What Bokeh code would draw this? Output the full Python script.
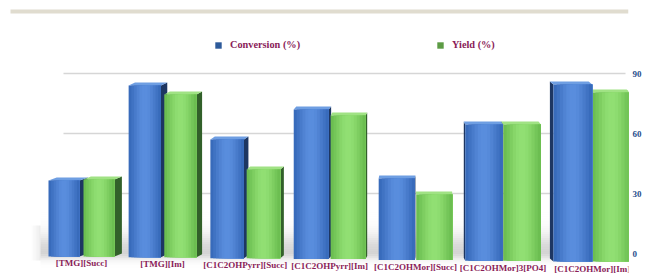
import numpy as np
from bokeh.plotting import figure
from bokeh.models import Range1d, LinearAxis, FixedTicker, Legend, LegendItem
from bokeh.embed import file_html
from bokeh.resources import INLINE
from bokeh.core.properties import value

# ---------------- data ----------------
categories = ["[TMG][Succ]", "[TMG][Im]", "[C1C2OHPyrr][Succ]", "[C1C2OHPyrr][Im]",
              "[C1C2OHMor][Succ]", "[C1C2OHMor]3[PO4]", "[C1C2OHMor][Im]"]
conversion = [36.5, 84, 57, 72, 37.5, 64.5, 84.5]
yield_pct = [37, 79.5, 42, 69, 29.5, 64.5, 80.5]
y_ticks = [0, 30, 60, 90]
series_names = ["Conversion (%)", "Yield (%)"]

# ---------------- style / layout ----------------
FONT = "Liberation Serif"
LABEL_COLOR = "#8a1c58"
TICK_COLOR = "#1f4e8c"
PX_X = 80.3    # pixels per category unit
PX_Y = 2.0     # pixels per value unit
X0_PX = 81.0   # frame pixel of first category
ZERO_PX = 253.0  # pixel row of value 0

blue = dict(front_edge=(48, 98, 178), front_mid=(90, 142, 222), side="#1d3662", top="#6e9ee2", legend="#2d5a9a")
green = dict(front_edge=(98, 182, 72), front_mid=(146, 224, 116), side="#32602a", top="#a0e284", legend="#5c9b44")

W, H = 667, 273
FRAME_W = 628
p = figure(width=W, height=H, output_backend="svg", toolbar_location=None,
           x_range=Range1d(-X0_PX / PX_X, (FRAME_W - X0_PX) / PX_X),
           y_range=Range1d(-(H - ZERO_PX) / PX_Y, ZERO_PX / PX_Y),
           min_border_left=0, min_border_right=W - FRAME_W, min_border_top=0, min_border_bottom=0)
p.xaxis.visible = False
p.yaxis.visible = False
p.grid.visible = False
p.outline_line_color = None


def xd(px):   # frame pixel -> x data
    return (px - X0_PX) / PX_X


def yd(px):   # pixel row -> y data
    return (ZERO_PX - px) / PX_Y


# right value axis
ax = LinearAxis(ticker=FixedTicker(ticks=y_ticks))
ax.axis_line_color = None
ax.major_tick_line_color = None
ax.minor_tick_line_color = None
ax.major_tick_out = 0
ax.major_tick_in = 0
ax.major_label_text_font = FONT
ax.major_label_text_font_style = "bold"
ax.major_label_text_font_size = "9px"
ax.major_label_text_color = TICK_COLOR
ax.major_label_standoff = 4
p.add_layout(ax, "right")

n = len(categories)
idx = np.arange(n, dtype=float)
xc = idx + 0.01 * idx ** 2          # slight perspective widening to the right

# decorative band at the top
p.quad(left=xd(10), right=xd(FRAME_W), bottom=yd(13), top=yd(9),
       fill_color="#e0dccf", line_color=None)

# floor shadow (gradient bands)
ys = np.linspace(yd(268), yd(205), 32)
for k in range(len(ys) - 1):
    ymid = 0.5 * (ys[k] + ys[k + 1])
    a = 0.30 * np.exp(-((ymid - 0.5) / (9.0 if ymid > 0.5 else 3.5)) ** 2)
    p.quad(left=xd(40), right=xd(600), bottom=ys[k], top=ys[k + 1],
           fill_color="#6f6f6f", fill_alpha=a, line_color=None)
for j in range(6):
    p.quad(left=xd(40 - 1.5 * (j + 1)), right=xd(40 - 1.5 * j), bottom=yd(260), top=yd(225),
           fill_color="#6f6f6f", fill_alpha=0.12 * (6 - j) / 6, line_color=None)

# gridlines (back wall)
grid_y = [t for t in y_ticks if t > 0]
p.segment(x0=[xd(63)] * len(grid_y), x1=[xd(625)] * len(grid_y), y0=grid_y, y1=grid_y,
          line_color="#d6d6d6", line_width=1.5)

VP_PX = 420.0 - X0_PX   # vanishing point relative to first category
DEPTH_K = 0.023
DY = 1.5


def draw_bar(x0, x1, v, base, sty):
    xm_px = 0.5 * (x0 + x1) * PX_X
    dx = DEPTH_K * (VP_PX - xm_px) / PX_X
    sx = x1 if dx > 0 else x0
    if abs(dx) * PX_X > 0.4:
        p.patch([sx, sx, sx + dx, sx + dx], [base, v, v + DY, base + DY],
                fill_color=sty["side"], line_color=None)
    p.patch([x0, x1, x1 + dx, x0 + dx], [v, v, v + DY, v + DY],
            fill_color=sty["top"], line_color=None)
    m = 12
    edges = np.linspace(x0, x1, m + 1)
    for k in range(m):
        t = (k + 0.5) / m
        w = np.sin(np.pi * (0.12 + 0.76 * t)) ** 2
        c = tuple(int(sty["front_edge"][i] + (sty["front_mid"][i] - sty["front_edge"][i]) * w) for i in range(3))
        p.quad(left=edges[k], right=x1, bottom=base, top=v,
               fill_color="#%02x%02x%02x" % c, line_color=None)


for i in range(n):
    base = yd(256 + 0.85 * i)
    w = (31 + 1.3 * i) / PX_X
    gap = max(2 - i / 3, 0) / PX_X
    bx0, bx1 = xc[i] - gap - w, xc[i] - gap
    gx0_, gx1_ = xc[i] + gap, xc[i] + gap + w
    if xc[i] * PX_X < VP_PX:
        draw_bar(bx0, bx1, conversion[i], base, blue)
        draw_bar(gx0_, gx1_, yield_pct[i], base, green)
    else:
        draw_bar(gx0_, gx1_, yield_pct[i], base, green)
        draw_bar(bx0, bx1, conversion[i], base, blue)

# category labels
p.text(x=xc, y=[yd(262 + 1.0 * i) for i in range(n)], text=categories,
       text_align="center", text_baseline="middle",
       text_font=value(FONT), text_font_style="bold", text_font_size="9px", text_color=LABEL_COLOR)

# legend (two entries placed like the reference); swatches come from off-screen quads
r_conv = p.quad(left=[-60], right=[-59], bottom=[-60], top=[-59], fill_color=blue["legend"], line_color=None)
r_yield = p.quad(left=[-60], right=[-59], bottom=[-60], top=[-59], fill_color=green["legend"], line_color=None)
for r, name, loc in [(r_conv, series_names[0], (214, 223)), (r_yield, series_names[1], (436, 223))]:
    lg = Legend(items=[LegendItem(label=name, renderers=[r])], location=loc,
                orientation="horizontal", padding=0, margin=0, spacing=0,
                glyph_width=8, glyph_height=8, label_height=8, label_standoff=8,
                label_text_font=FONT, label_text_font_style="bold", label_text_font_size="10.3px",
                label_text_color=LABEL_COLOR, background_fill_alpha=0, border_line_color=None)
    p.add_layout(lg, "center")

open("out.html", "w").write(file_html(p, INLINE))
